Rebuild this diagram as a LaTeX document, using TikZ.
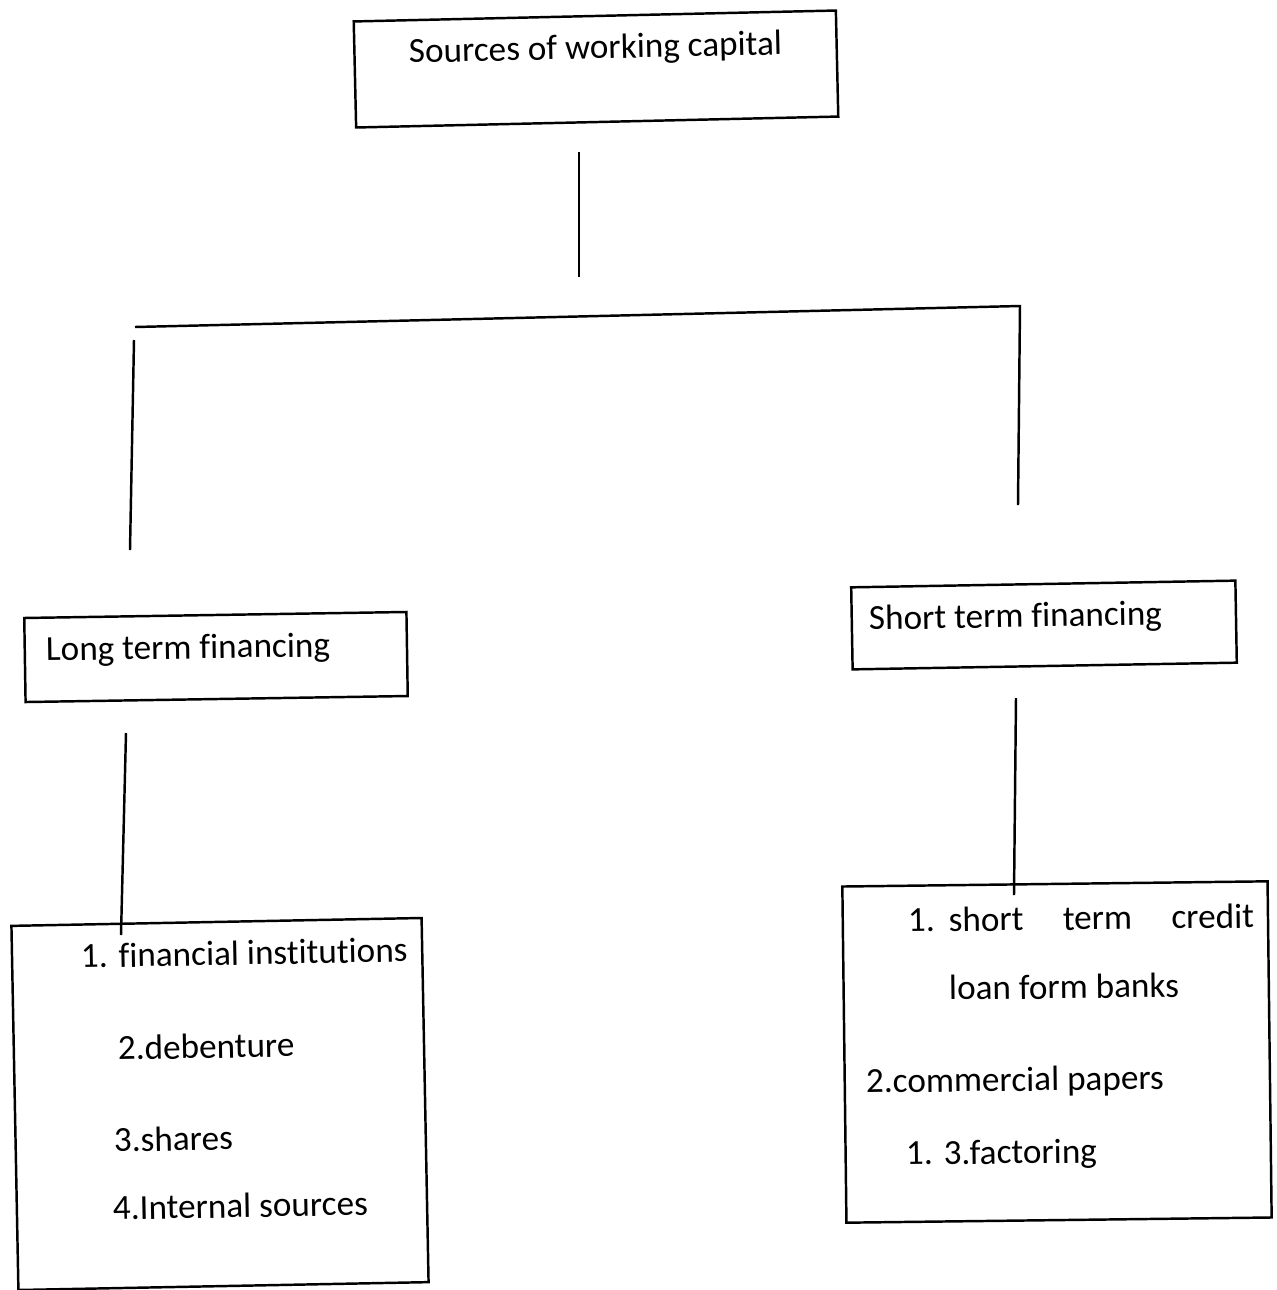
\documentclass[tikz,border=0pt]{standalone}
\usepackage{fontspec}
\setmainfont{Carlito}[Ligatures={NoCommon}]
\begin{document}
\begin{tikzpicture}[x=0.01cm, y=-0.01cm, line width=0.7pt,
 box/.style={shape=rectangle, draw, inner sep=0pt},
 txt/.style={anchor=base west, inner sep=0pt, font=\fontsize{10}{12}\selectfont}]
 \useasboundingbox (0,0) rectangle (1277,1290);

 % top
 \node (sources) at (596,69) [box, rotate=1.3, minimum width=4.82cm, minimum height=1.06cm] {};
 \node (sourcestxt) at (408,63) [txt, rotate=1.3] {Sources of working capital};

 % level two
 \node (long) at (216,657) [box, rotate=0.9, minimum width=3.82cm, minimum height=0.84cm] {};
 \node (longtxt) at (45,661) [txt, rotate=0.9] {Long term financing};
 \node (short) at (1044,625) [box, rotate=1.0, minimum width=3.84cm, minimum height=0.82cm] {};
 \node (shorttxt) at (868,630) [txt, rotate=1.0] {Short term financing};

 % long term list
 \node (longlist) at (220,1104) [box, rotate=1.1, minimum width=4.10cm, minimum height=3.64cm] {};
 \node (l1) at (80,968) [txt, rotate=1.1] {1.\hspace{0.11cm}financial institutions};
 \node (l2) at (117,1060) [txt, rotate=1.1] {2.debenture};
 \node (l3) at (113,1152) [txt, rotate=1.1] {3.shares};
 \node (l4) at (112,1220) [txt, rotate=1.1] {4.Internal sources};

 % short term list
 \node (shortlist) at (1057,1052) [box, rotate=0.7, minimum width=4.25cm, minimum height=3.36cm] {};
 \node (s1) at (907,932) [txt, rotate=0.7] {1.\hspace{0.14cm}\makebox[3.05cm][s]{short term credit}};
 \node (s1b) at (948,1000) [txt, rotate=0.7] {loan form banks};
 \node (s2) at (865,1093) [txt, rotate=0.7] {2.commercial papers};
 \node (s3) at (905,1165) [txt, rotate=0.7] {1.\hspace{0.11cm}3.factoring};

 % connectors
 \coordinate (stemtop) at (579,152);
 \coordinate (stembot) at (579,277);
 \coordinate (busleft) at (135,327);
 \coordinate (busright) at (1020,306);
 \coordinate (dropright) at (1018,505);
 \coordinate (dropltop) at (134,340);
 \coordinate (droplbot) at (130,550);
 \coordinate (longstemtop) at (126,733);
 \coordinate (longstembot) at (121,935);
 \coordinate (shortstemtop) at (1016,698);
 \coordinate (shortstembot) at (1014,895);

 \draw (stemtop) -- (stembot);
 \draw (busleft) -- (busright) -- (dropright);
 \draw (dropltop) -- (droplbot);
 \draw (longstemtop) -- (longstembot);
 \draw (shortstemtop) -- (shortstembot);
\end{tikzpicture}
\end{document}
